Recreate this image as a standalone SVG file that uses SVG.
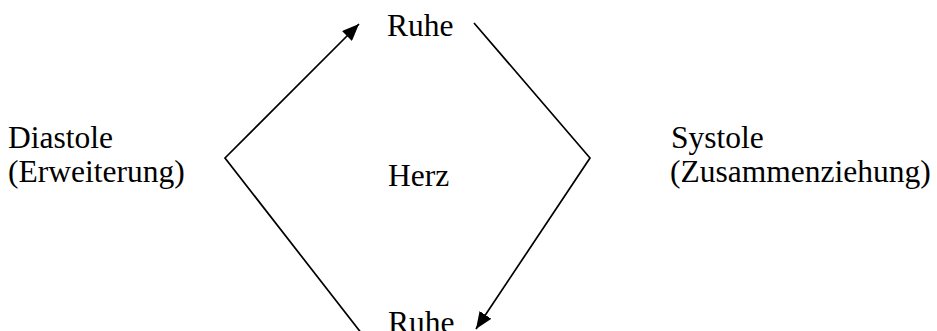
<svg xmlns="http://www.w3.org/2000/svg" width="937" height="331" viewBox="0 0 937 331">
<style>
text{font-family:"Liberation Serif","Times New Roman",serif;font-size:31.5px;fill:#000}
.ln{stroke:#000;stroke-width:1.7;fill:none}
</style>
<defs>
<marker id="ah" markerUnits="userSpaceOnUse" markerWidth="18" markerHeight="14" refX="17" refY="7" orient="auto">
<path d="M0,0 L17,7 L0,14 z" fill="#000"/>
</marker>
</defs>
<rect width="937" height="331" fill="#fff"/>
<g id="connectors">
<polyline class="ln" points="362,334 225,158 359,24" marker-end="url(#ah)"/>
<polyline class="ln" points="474,23 590,158 476,329" marker-end="url(#ah)"/>
</g>
<g id="ruhe-top"><text x="387" y="36">Ruhe</text></g>
<g id="herz"><text x="388" y="186">Herz</text></g>
<g id="diastole"><text x="8" y="148">Diastole</text><text x="8" y="182">(Erweiterung)</text></g>
<g id="systole"><text x="671" y="148">Systole</text><text x="670" y="182">(Zusammenziehung)</text></g>
<g id="ruhe-bottom"><text x="388" y="333">Ruhe</text></g>
</svg>
